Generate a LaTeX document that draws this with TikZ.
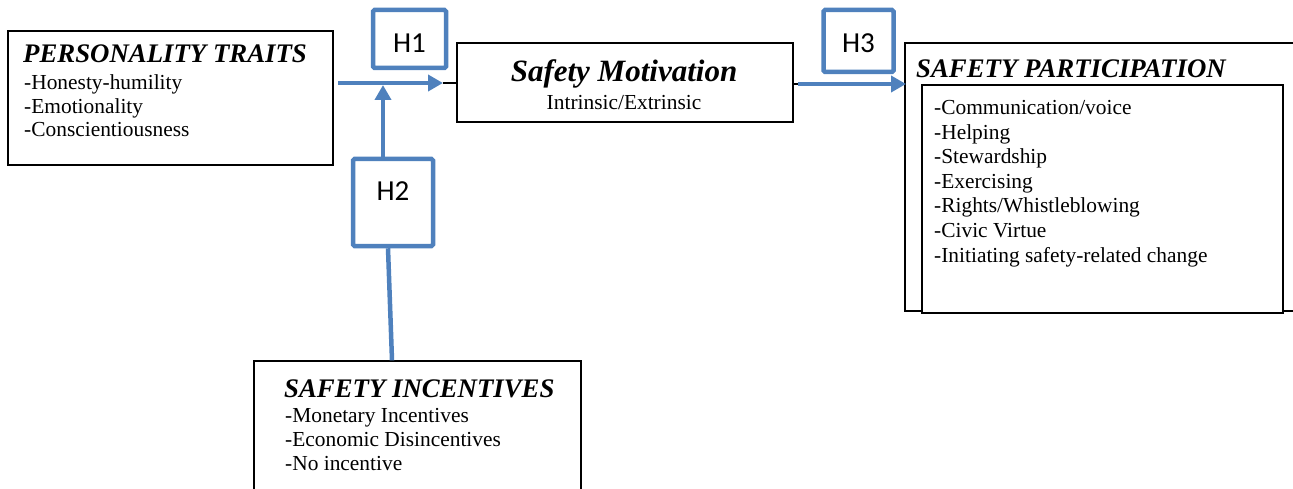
\documentclass[tikz,border=0pt]{standalone}
\usepackage{fontspec}
\setmainfont{Liberation Serif}
\newfontfamily\hfont{Carlito}
\usetikzlibrary{arrows.meta,shadows}
\definecolor{hblue}{HTML}{4F81BD}
\tikzset{
  blackbox/.style={draw=black,line width=1.3pt,fill=white,rectangle,inner sep=0pt},
  hbox/.style={draw=hblue,line width=4.5pt,fill=white,rectangle,rounded corners=1.5pt,inner sep=0pt,
    drop shadow={opacity=0.25,shadow xshift=1.5pt,shadow yshift=-1.5pt}},
  hlabel/.style={font=\hfont\fontsize{29}{30}\selectfont,inner sep=0pt},
  blink/.style={draw=hblue,line width=4.5pt},
  barrow/.style={blink,-{Triangle[length=15pt,width=16pt]}},
  thinlink/.style={draw=black,line width=1.3pt},
  head/.style={font=\fontsize{26.8}{28}\selectfont\bfseries\itshape,anchor=base west,inner sep=0pt},
  item/.style={font=\fontsize{21.4}{24}\selectfont,anchor=base west,inner sep=0pt},
}
\begin{document}
\begin{tikzpicture}[x=1pt,y=-1pt]
\useasboundingbox (0,0) rectangle (1293,489);
\clip (0,0) rectangle (1293,489);
% boxes
\node[blackbox,minimum width=325pt,minimum height=134pt] (pt) at (170.5,98) {};
\node[blackbox,minimum width=336pt,minimum height=79pt] (sm) at (625,82.5) {};
\node[blackbox,minimum width=400pt,minimum height=268pt] (spo) at (1105,177) {};
\node[blackbox,minimum width=361pt,minimum height=228pt] (spi) at (1102.5,199) {};
\node[blackbox,minimum width=327pt,minimum height=150pt] (si) at (417.5,436) {};
% H boxes
\node[hbox,minimum width=73pt,minimum height=58pt] (h1) at (409.5,39) {};
\node[hbox,minimum width=80pt,minimum height=87pt] (h2) at (393,202.5) {};
\node[hbox,minimum width=70pt,minimum height=62pt] (h3) at (858.5,41) {};
\node[hlabel] (h1t) at (409.5,43) {H1};
\node[hlabel] (h2t) at (393,191) {H2};
\node[hlabel] (h3t) at (858.5,43) {H3};
% texts: personality traits
\node[head] (pth) at (23,63) {PERSONALITY TRAITS};
\node[item] (pt1) at (24,90) {-Honesty-humility};
\node[item] (pt2) at (24,113.5) {-Emotionality};
\node[item] (pt3) at (24,137) {-Conscientiousness};
% safety motivation
\node[font=\fontsize{31}{32}\selectfont\bfseries\itshape,anchor=base,inner sep=0pt] (smh) at (624,82) {Safety Motivation};
\node[font=\fontsize{21.4}{24}\selectfont,anchor=base,inner sep=0pt] (sms) at (624,110) {Intrinsic/Extrinsic};
% safety participation
\node[head] (sph) at (916,78) {SAFETY PARTICIPATION};
\node[item] (sp1) at (934,115) {-Communication/voice};
\node[item] (sp2) at (934,139.5) {-Helping};
\node[item] (sp3) at (934,164) {-Stewardship};
\node[item] (sp4) at (934,188.5) {-Exercising};
\node[item] (sp5) at (934,213) {-Rights/Whistleblowing};
\node[item] (sp6) at (934,237.5) {-Civic Virtue};
\node[item] (sp7) at (934,262) {-Initiating safety-related change};
% safety incentives
\node[head] (sih) at (284,397) {SAFETY INCENTIVES};
\node[item] (si1) at (285,422) {-Monetary Incentives};
\node[item] (si2) at (285,446) {-Economic Disincentives};
\node[item] (si3) at (285,470) {-No incentive};
% connectors
\coordinate (a1s) at (338,83);
\coordinate (a1e) at (443,83);
\draw[barrow] (a1s) -- (a1e);
\draw[thinlink] (a1e) -- (sm.west |- a1e);
\coordinate (a2e) at (383,85);
\draw[barrow] (h2.north -| a2e) -- (a2e);
\draw[blink] ([xshift=-5pt]h2.south) -- (si.north -| 392,0);
\coordinate (a3s) at (798,84);
\coordinate (a3e) at (906,84);
\draw[thinlink] (sm.east |- a3s) -- (a3s);
\draw[barrow] (a3s) -- (a3e);
\end{tikzpicture}
\end{document}
